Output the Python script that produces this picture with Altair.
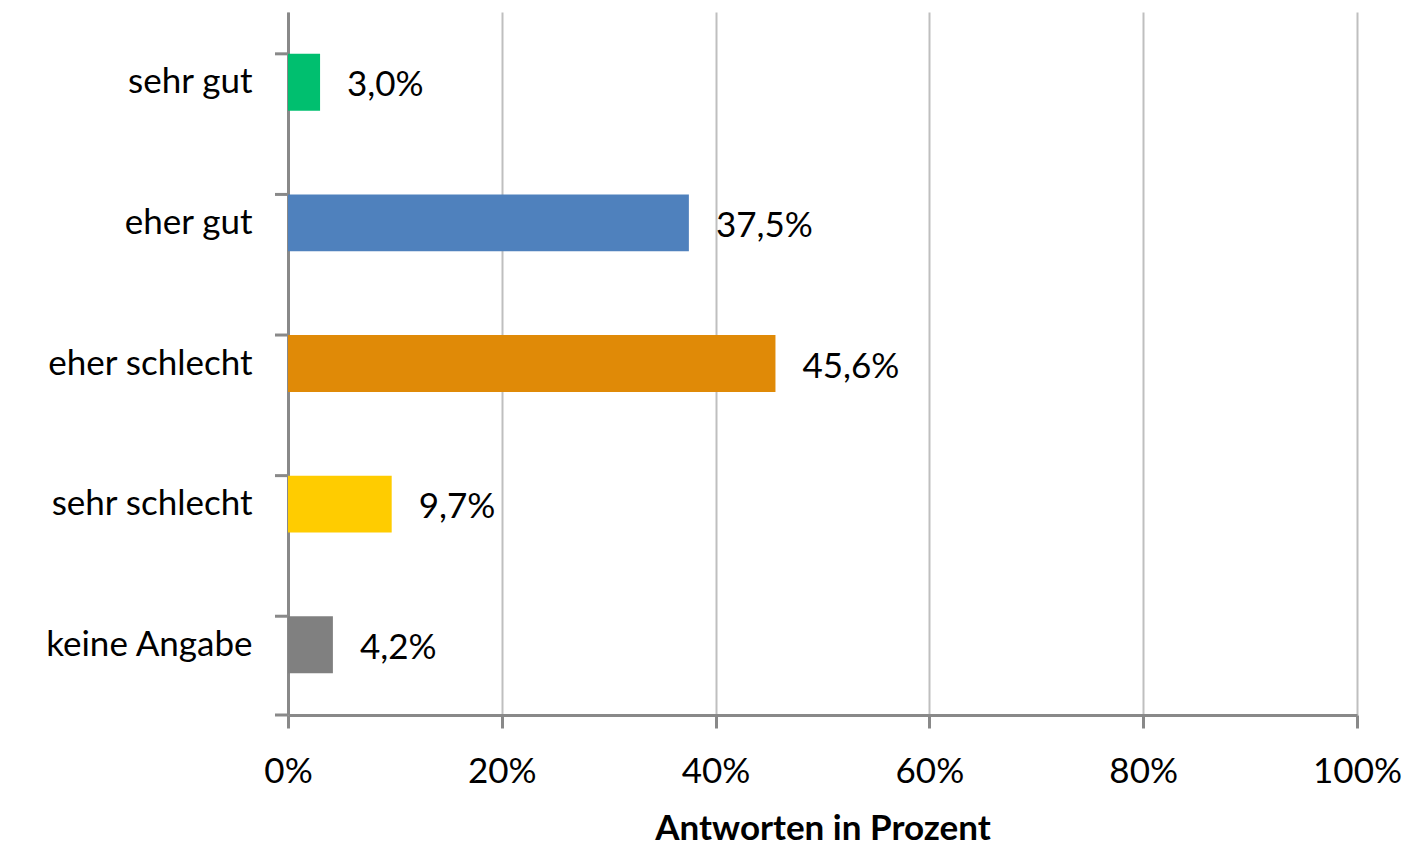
import altair as alt
import pandas as pd

categories = ["sehr gut", "eher gut", "eher schlecht", "sehr schlecht", "keine Angabe"]
values = [3.0, 37.5, 45.6, 9.7, 4.2]
colors = ["#00BF6F", "#4F81BD", "#E08A07", "#FFCC00", "#808080"]
x_ticks = [0, 20, 40, 60, 80, 100]

df = pd.DataFrame({
    "cat": categories,
    "val": values,
    "label": [f"{v:.1f}%".replace(".", ",") for v in values],
})

FONT = "Lato"
FS = 35
W, H = 1069, 703

yscale = alt.Scale(domain=categories, paddingInner=0.595, paddingOuter=0.2975)
xscale = alt.Scale(domain=[0, 100], nice=False)

bars = alt.Chart(df).mark_bar().encode(
    x=alt.X("val:Q", scale=xscale, axis=alt.Axis(
        values=x_ticks, labelExpr="datum.value + '%'", title="Antworten in Prozent",
        grid=True, gridColor="#BFBFBF", gridWidth=2, labelFlush=False,
        domainColor="#898989", domainWidth=3, tickColor="#898989", tickWidth=3, tickSize=13,
        labelFont=FONT, labelFontSize=FS, labelColor="black", labelPadding=26,
        titleFont=FONT, titleFontSize=FS, titleFontWeight="bold", titleColor="black", titlePadding=22,
    )),
    y=alt.Y("cat:N", sort=categories, scale=yscale, axis=alt.Axis(
        title=None, ticks=False, domainColor="#898989", domainWidth=3, labelLimit=400,
        labelFont=FONT, labelFontSize=FS, labelColor="black", labelPadding=36,
    )),
    color=alt.Color("cat:N", scale=alt.Scale(domain=categories, range=colors), legend=None),
)

text = alt.Chart(df).mark_text(align="left", baseline="middle", dx=27, dy=3, font=FONT, fontSize=FS, color="black").encode(
    x=alt.X("val:Q", scale=xscale),
    y=alt.Y("cat:N", sort=categories, scale=yscale),
    text="label:N",
)

yticks = alt.Chart(df).mark_rule(color="#898989", strokeWidth=3).encode(
    y=alt.Y("cat:N", sort=categories, scale=yscale, bandPosition=0),
    x=alt.value(-13), x2=alt.value(0),
)

bottom_tick = alt.Chart(df.head(1)).mark_rule(color="#898989", strokeWidth=3).encode(
    y=alt.value(H), x=alt.value(-13), x2=alt.value(0),
)

chart = alt.layer(bars, text, yticks, bottom_tick).properties(
    width=W, height=H,
    autosize=alt.AutoSizeParams(type="none"),
    padding={"left": 280, "top": 4, "right": 50, "bottom": 134},
).configure_view(stroke=None)

chart.save("out.html", embed_options={"renderer": "svg", "actions": False})
